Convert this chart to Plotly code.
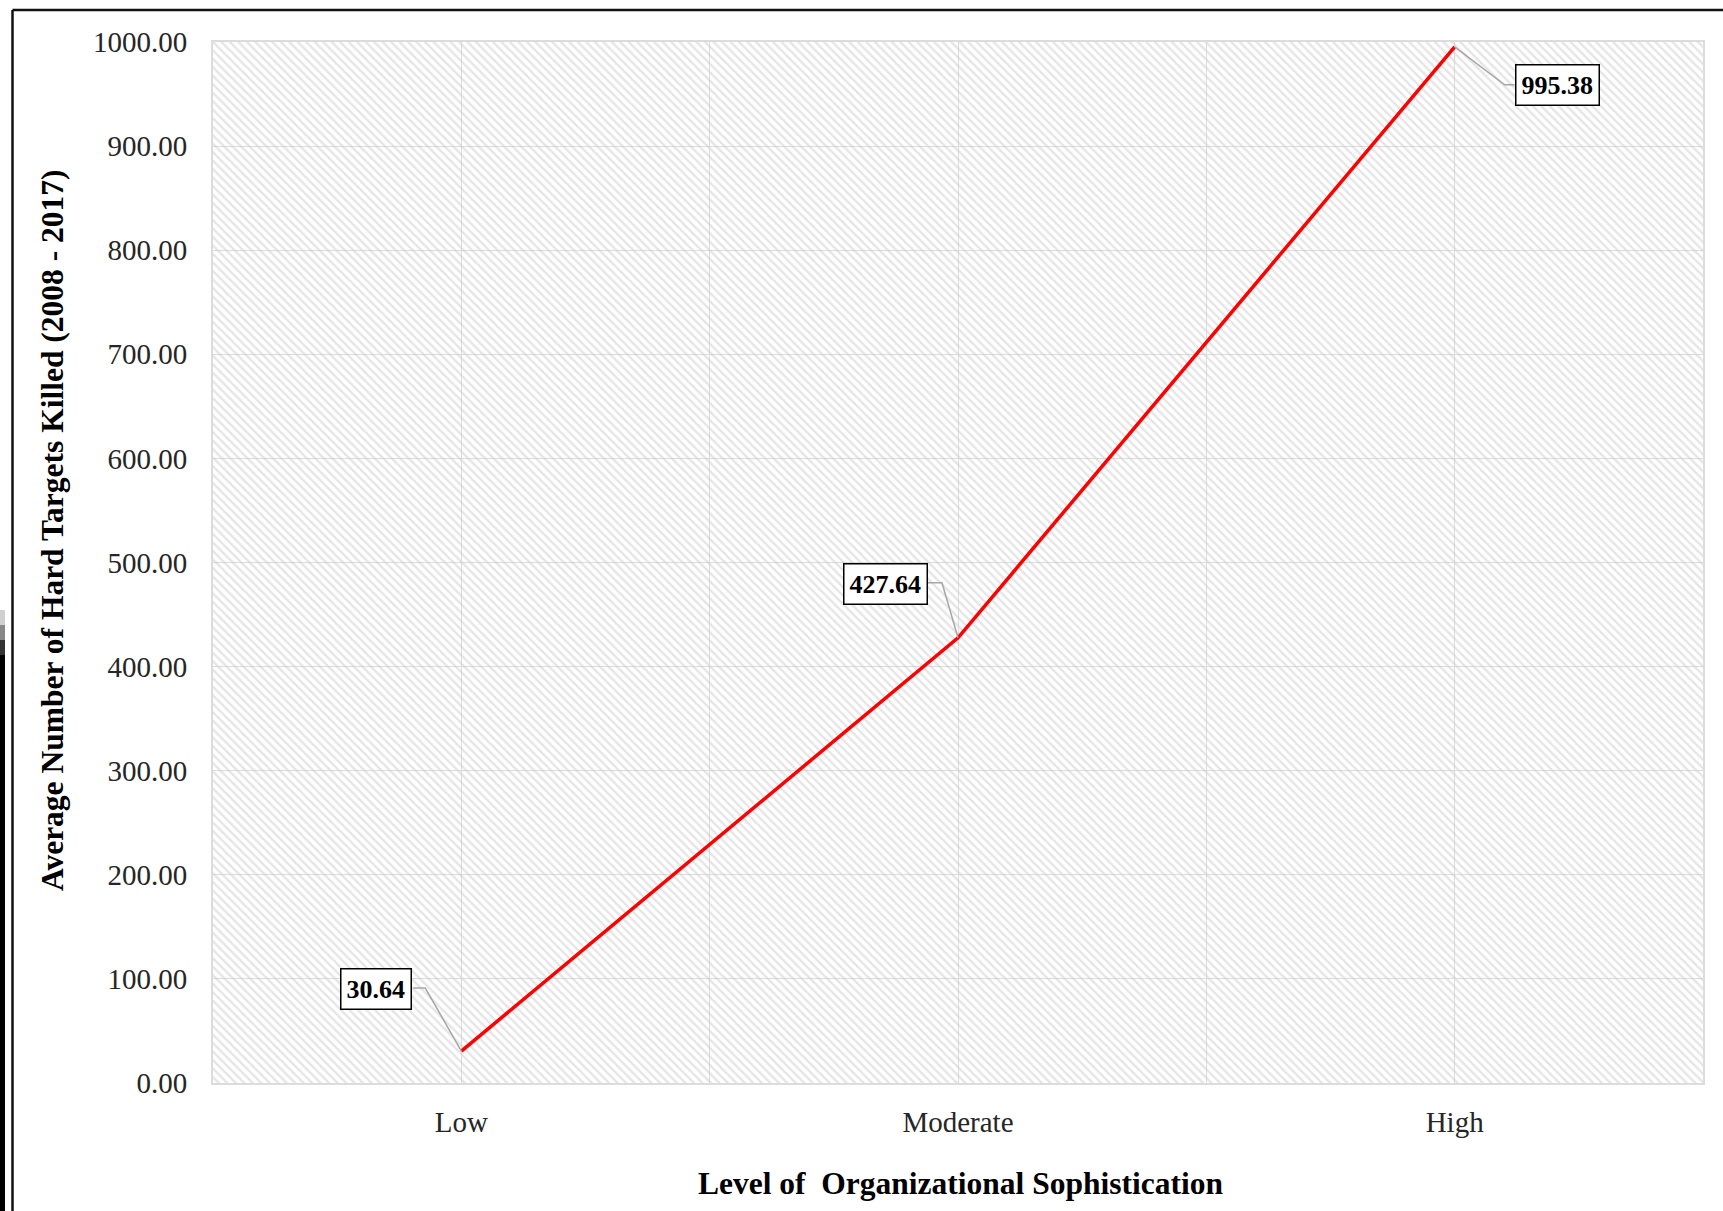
import plotly.graph_objects as go

# ---- data ----
levels = ["Low", "Moderate", "High"]
avg_hard_targets_killed = [30.64, 427.64, 995.38]
y_ticks = [0, 100, 200, 300, 400, 500, 600, 700, 800, 900, 1000]

# ---- canvas / layout geometry (pixels) ----
W, H = 1723, 1211
M_L, M_R, M_T, M_B = 213, 20, 42, 128
PLOT_W = W - M_L - M_R
PLOT_H = H - M_T - M_B


def px(x):
    """pixel x on the page -> paper x"""
    return (x - M_L) / PLOT_W


def py(y):
    """pixel y on the page -> paper y"""
    return (H - M_B - y) / PLOT_H


FONT = "Liberation Serif, Times New Roman, serif"
GRID = "#dcdcdc"
x_idx = list(range(len(levels)))
x_range = [-0.5, len(levels) - 0.5]
y_range = [0, 1000]

fig = go.Figure()

# hatched plot-area background
fig.add_trace(go.Scatter(
    x=[x_range[0], x_range[1], x_range[1], x_range[0], x_range[0]],
    y=[y_range[0], y_range[0], y_range[1], y_range[1], y_range[0]],
    mode="none", fill="toself",
    fillcolor="rgba(0,0,0,0)",
    fillpattern=dict(shape="\\", size=6, solidity=0.4,
                     fgcolor="#cbcbcb", bgcolor="rgba(0,0,0,0)"),
    hoverinfo="skip", showlegend=False,
))

# the series
fig.add_trace(go.Scatter(
    x=x_idx, y=avg_hard_targets_killed, mode="lines",
    line=dict(color="#ff0000", width=3.5),
    showlegend=False,
))

# data labels: boxed value + elbow leader line anchored at each point
label_offsets = [  # (box centre dx, dy, elbow dx, dy, box edge dx, dy) in px, y up
    (-85, 62, -36, 63, -48, 63),
    (-73, 54, -16, 55, -30, 55),
    (103, -38, 50, -38, 60, -38),
]
for xi, v, (bx, by, ex, ey, gx, gy) in zip(x_idx, avg_hard_targets_killed, label_offsets):
    fig.add_shape(
        type="path", xref="x", yref="y",
        xsizemode="pixel", ysizemode="pixel", xanchor=xi, yanchor=v,
        path=f"M 0,0 L {ex},{ey} L {gx},{gy}",
        line=dict(color="#a6a6a6", width=1.5), layer="above",
    )
    fig.add_annotation(
        x=xi, y=v, xref="x", yref="y", showarrow=False,
        xshift=bx, yshift=by,
        text=f"<b>{v:.2f}</b>",
        font=dict(family=FONT, size=26, color="#000000"),
        bgcolor="white", bordercolor="#000000", borderwidth=1.5, borderpad=5,
    )

# axis titles
fig.add_annotation(
    x=px(52), y=py(530), xref="paper", yref="paper", showarrow=False,
    textangle=-90, text="<b>Average Number of Hard Targets Killed (2008 - 2017)</b>",
    font=dict(family=FONT, size=31.5, color="#000000"),
    xanchor="center", yanchor="middle",
)
fig.add_annotation(
    x=px(960), y=py(1183), xref="paper", yref="paper", showarrow=False,
    text="<b>Level of  Organizational Sophistication</b>",
    font=dict(family=FONT, size=31.5, color="#000000"),
    xanchor="center", yanchor="middle",
)

# page frame (top and left rules) and the dark strip down the left edge
fig.add_shape(type="line", xref="paper", yref="paper",
              x0=px(12.5), x1=px(W + 5), y0=py(10), y1=py(10),
              line=dict(color="#111111", width=2.5), layer="above")
fig.add_shape(type="line", xref="paper", yref="paper",
              x0=px(12.5), x1=px(12.5), y0=py(10), y1=py(H + 5),
              line=dict(color="#111111", width=2.5), layer="above")
for y0, y1, c in [(610, 625, "#d0d0d0"), (625, 640, "#888888"),
                  (640, 655, "#333333"), (655, H + 5, "#000000")]:
    fig.add_shape(type="rect", xref="paper", yref="paper",
                  x0=px(0), x1=px(5), y0=py(y1), y1=py(y0),
                  line=dict(width=0), fillcolor=c, layer="above")

fig.update_layout(
    width=W, height=H,
    margin=dict(l=M_L, r=M_R, t=M_T, b=M_B, autoexpand=False),
    paper_bgcolor="white", plot_bgcolor="white",
    font=dict(family=FONT, size=29, color="#262626"),
    showlegend=False,
)
fig.update_xaxes(
    range=x_range, tickmode="array", tickvals=x_idx, ticktext=levels,
    showgrid=True, gridcolor=GRID, gridwidth=1,
    minor=dict(tick0=0.5, dtick=1, showgrid=True, gridcolor=GRID, gridwidth=1),
    showline=True, linecolor=GRID, linewidth=2, mirror=True,
    zeroline=False, ticks="", ticklabelstandoff=12,
    tickfont=dict(family=FONT, size=29, color="#262626"),
)
fig.update_yaxes(
    range=y_range, tickmode="array", tickvals=y_ticks,
    ticktext=[f"{t:.2f}" for t in y_ticks],
    showgrid=True, gridcolor=GRID, gridwidth=1,
    showline=True, linecolor=GRID, linewidth=2, mirror=True,
    zeroline=False, ticks="", ticklabelstandoff=18,
    tickfont=dict(family=FONT, size=29, color="#262626"),
)

fig.write_html("out.html")
